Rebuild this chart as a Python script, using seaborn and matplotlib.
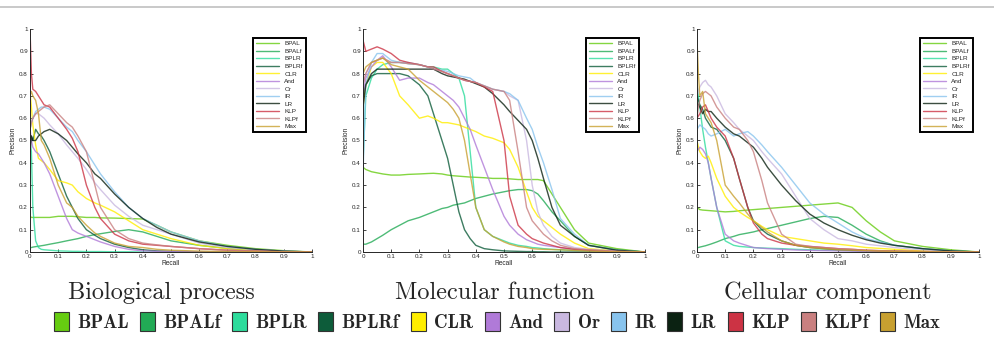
import pandas as pd
import matplotlib
matplotlib.use('Agg')
import matplotlib.pyplot as plt
from matplotlib.lines import Line2D
from matplotlib.patches import Patch
from matplotlib.ticker import FuncFormatter, MultipleLocator
import seaborn as sns

methods = ['BPAL', 'BPALf', 'BPLR', 'BPLRf', 'CLR', 'And', 'Or', 'IR', 'LR', 'KLP', 'KLPf', 'Max']
colors = ['#66cc11', '#22aa55', '#2ddc9c', '#0d5c3a', '#ffee00', '#b07ad8',
          '#c9b8e0', '#88c4ee', '#0b2212', '#cc3344', '#c98080', '#c8a030']
titles = ['Biological process', 'Molecular function', 'Cellular component']

# Biological process
bp_recall = [0, 0.005, 0.01, 0.02, 0.03, 0.04, 0.05, 0.07, 0.1, 0.13, 0.15, 0.17, 0.2,
             0.23, 0.25, 0.3, 0.35, 0.4, 0.45, 0.5, 0.6, 0.7, 0.8, 0.9, 1.0]
bp_precision = {
    'BPAL':  [0.16, 0.155, 0.155, 0.155, 0.155, 0.155, 0.155, 0.155, 0.16, 0.16, 0.16, 0.158, 0.155,
              0.155, 0.153, 0.152, 0.15, 0.148, 0.12, 0.09, 0.05, 0.03, 0.015, 0.006, 0.0],
    'BPALf': [0.02, 0.02, 0.022, 0.024, 0.026, 0.028, 0.03, 0.035, 0.042, 0.05, 0.055, 0.06, 0.07,
              0.078, 0.082, 0.092, 0.1, 0.09, 0.07, 0.05, 0.03, 0.016, 0.008, 0.003, 0.0],
    'BPLR':  [0.5, 0.45, 0.2, 0.05, 0.02, 0.012, 0.01, 0.008, 0.005, 0.004, 0.003, 0.003, 0.002,
              0.002, 0.002, 0.001, 0.001, 0, 0, 0, 0, 0, 0, 0, 0],
    'BPLRf': [0.5, 0.52, 0.5, 0.55, 0.53, 0.52, 0.5, 0.45, 0.35, 0.25, 0.2, 0.15, 0.1,
              0.075, 0.06, 0.035, 0.02, 0.01, 0.005, 0.003, 0.001, 0, 0, 0, 0],
    'CLR':   [0.72, 0.65, 0.57, 0.48, 0.42, 0.41, 0.4, 0.37, 0.32, 0.31, 0.3, 0.27, 0.24,
              0.22, 0.21, 0.18, 0.14, 0.1, 0.08, 0.06, 0.03, 0.015, 0.008, 0.003, 0.0],
    'And':   [0.55, 0.5, 0.47, 0.45, 0.44, 0.42, 0.4, 0.35, 0.25, 0.15, 0.1, 0.085, 0.07,
              0.055, 0.045, 0.025, 0.012, 0.005, 0.003, 0.002, 0.001, 0, 0, 0, 0],
    'Or':    [0.55, 0.58, 0.6, 0.62, 0.62, 0.61, 0.6, 0.57, 0.53, 0.48, 0.45, 0.42, 0.37,
              0.31, 0.28, 0.21, 0.16, 0.12, 0.1, 0.08, 0.04, 0.02, 0.01, 0.004, 0.0],
    'IR':    [0.55, 0.58, 0.6, 0.63, 0.64, 0.65, 0.65, 0.64, 0.6, 0.56, 0.54, 0.5, 0.45,
              0.39, 0.35, 0.27, 0.2, 0.15, 0.12, 0.09, 0.05, 0.025, 0.012, 0.004, 0.0],
    'LR':    [0.45, 0.52, 0.5, 0.5, 0.52, 0.53, 0.54, 0.55, 0.53, 0.5, 0.47, 0.44, 0.4,
              0.35, 0.33, 0.26, 0.2, 0.15, 0.11, 0.08, 0.045, 0.025, 0.012, 0.004, 0.0],
    'KLP':   [1.0, 0.8, 0.73, 0.72, 0.7, 0.68, 0.66, 0.65, 0.6, 0.55, 0.51, 0.45, 0.3,
              0.2, 0.15, 0.08, 0.05, 0.035, 0.03, 0.025, 0.015, 0.008, 0.004, 0.001, 0.0],
    'KLPf':  [0.55, 0.58, 0.6, 0.62, 0.63, 0.64, 0.65, 0.66, 0.62, 0.58, 0.56, 0.52, 0.45,
              0.3, 0.2, 0.1, 0.06, 0.04, 0.032, 0.025, 0.015, 0.008, 0.004, 0.001, 0.0],
    'Max':   [0.7, 0.72, 0.7, 0.68, 0.62, 0.5, 0.48, 0.42, 0.3, 0.22, 0.2, 0.16, 0.12,
              0.085, 0.07, 0.04, 0.025, 0.02, 0.012, 0.008, 0.004, 0.002, 0.001, 0, 0],
}

# Molecular function
mf_recall = [0, 0.01, 0.03, 0.05, 0.07, 0.1, 0.13, 0.16, 0.2, 0.23, 0.25, 0.28, 0.3, 0.32,
             0.34, 0.36, 0.38, 0.4, 0.43, 0.46, 0.5, 0.52, 0.55, 0.58, 0.6, 0.62, 0.64,
             0.67, 0.7, 0.75, 0.8, 0.9, 1.0]
mf_precision = {
    'BPAL':  [0.38, 0.37, 0.36, 0.355, 0.35, 0.345, 0.345, 0.348, 0.35, 0.352, 0.353, 0.35, 0.345,
              0.342, 0.34, 0.338, 0.336, 0.335, 0.333, 0.33, 0.33, 0.328, 0.325, 0.325, 0.325,
              0.325, 0.32, 0.26, 0.2, 0.1, 0.04, 0.015, 0.0],
    'BPALf': [0.035, 0.035, 0.045, 0.06, 0.075, 0.1, 0.12, 0.14, 0.155, 0.17, 0.18, 0.195, 0.2,
              0.21, 0.215, 0.22, 0.23, 0.24, 0.25, 0.26, 0.27, 0.275, 0.28, 0.28, 0.275, 0.26,
              0.23, 0.18, 0.14, 0.07, 0.03, 0.01, 0.0],
    'BPLR':  [0.4, 0.7, 0.78, 0.82, 0.84, 0.85, 0.85, 0.845, 0.84, 0.83, 0.83, 0.82, 0.82,
              0.8, 0.78, 0.7, 0.45, 0.2, 0.1, 0.07, 0.05, 0.04, 0.03, 0.025, 0.02, 0.018,
              0.015, 0.012, 0.01, 0.007, 0.005, 0.002, 0.0],
    'BPLRf': [0.7, 0.75, 0.79, 0.8, 0.8, 0.8, 0.8, 0.79, 0.75, 0.7, 0.62, 0.5, 0.42, 0.3,
              0.18, 0.1, 0.06, 0.03, 0.015, 0.01, 0.005, 0.004, 0.003, 0.002, 0.002, 0.001,
              0.001, 0, 0, 0, 0, 0, 0],
    'CLR':   [0.65, 0.75, 0.83, 0.85, 0.85, 0.8, 0.7, 0.66, 0.6, 0.61, 0.6, 0.58, 0.58, 0.575,
              0.57, 0.56, 0.55, 0.54, 0.52, 0.51, 0.49, 0.46, 0.38, 0.27, 0.2, 0.16, 0.14,
              0.11, 0.08, 0.04, 0.015, 0.005, 0.0],
    'And':   [0.7, 0.78, 0.83, 0.86, 0.88, 0.83, 0.77, 0.78, 0.78, 0.76, 0.75, 0.72, 0.7, 0.68,
              0.65, 0.6, 0.55, 0.48, 0.38, 0.28, 0.16, 0.12, 0.08, 0.055, 0.045, 0.035, 0.03,
              0.025, 0.02, 0.012, 0.008, 0.003, 0.0],
    'Or':    [0.75, 0.8, 0.85, 0.86, 0.87, 0.85, 0.85, 0.845, 0.84, 0.83, 0.82, 0.81, 0.8, 0.79,
              0.78, 0.77, 0.765, 0.76, 0.745, 0.73, 0.72, 0.7, 0.68, 0.5, 0.3, 0.18, 0.12,
              0.07, 0.04, 0.02, 0.012, 0.004, 0.0],
    'IR':    [0.35, 0.75, 0.85, 0.89, 0.89, 0.86, 0.85, 0.85, 0.84, 0.83, 0.82, 0.815, 0.81, 0.8,
              0.79, 0.785, 0.78, 0.76, 0.745, 0.73, 0.72, 0.71, 0.68, 0.6, 0.55, 0.47, 0.4,
              0.28, 0.15, 0.08, 0.03, 0.008, 0.0],
    'LR':    [0.65, 0.75, 0.8, 0.82, 0.82, 0.82, 0.82, 0.82, 0.82, 0.82, 0.82, 0.8, 0.79, 0.785,
              0.78, 0.775, 0.765, 0.755, 0.74, 0.71, 0.66, 0.63, 0.59, 0.55, 0.5, 0.42, 0.33,
              0.2, 0.12, 0.07, 0.03, 0.008, 0.0],
    'KLP':   [0.95, 0.9, 0.91, 0.92, 0.91, 0.89, 0.86, 0.85, 0.84, 0.83, 0.83, 0.81, 0.8, 0.79,
              0.78, 0.77, 0.765, 0.76, 0.74, 0.72, 0.5, 0.25, 0.12, 0.08, 0.06, 0.05, 0.04,
              0.03, 0.02, 0.012, 0.008, 0.002, 0.0],
    'KLPf':  [0.75, 0.8, 0.85, 0.86, 0.87, 0.85, 0.85, 0.845, 0.84, 0.83, 0.82, 0.81, 0.8, 0.79,
              0.78, 0.77, 0.765, 0.76, 0.745, 0.73, 0.72, 0.68, 0.45, 0.2, 0.14, 0.11, 0.08,
              0.05, 0.03, 0.015, 0.01, 0.003, 0.0],
    'Max':   [0.8, 0.83, 0.85, 0.86, 0.87, 0.84, 0.83, 0.82, 0.77, 0.74, 0.72, 0.69, 0.67, 0.64,
              0.6, 0.5, 0.35, 0.2, 0.1, 0.07, 0.045, 0.035, 0.025, 0.02, 0.015, 0.013, 0.012,
              0.011, 0.01, 0.007, 0.004, 0.001, 0.0],
}

# Cellular component
cc_recall = [0, 0.005, 0.01, 0.02, 0.03, 0.04, 0.05, 0.07, 0.1, 0.13, 0.15, 0.18, 0.2, 0.23,
             0.25, 0.3, 0.35, 0.4, 0.45, 0.5, 0.55, 0.6, 0.65, 0.7, 0.8, 0.9, 1.0]
cc_precision = {
    'BPAL':  [0.2, 0.195, 0.19, 0.188, 0.187, 0.186, 0.185, 0.183, 0.18, 0.182, 0.185, 0.188,
              0.19, 0.193, 0.195, 0.2, 0.205, 0.21, 0.215, 0.22, 0.2, 0.14, 0.09, 0.05, 0.025,
              0.01, 0.0],
    'BPALf': [0.02, 0.02, 0.022, 0.025, 0.028, 0.032, 0.036, 0.045, 0.06, 0.07, 0.078, 0.085,
              0.09, 0.1, 0.105, 0.12, 0.135, 0.15, 0.16, 0.155, 0.12, 0.08, 0.05, 0.03, 0.015,
              0.005, 0.0],
    'BPLR':  [0.75, 0.7, 0.65, 0.55, 0.47, 0.4, 0.33, 0.2, 0.05, 0.03, 0.025, 0.022, 0.02,
              0.018, 0.017, 0.015, 0.012, 0.01, 0.008, 0.007, 0.006, 0.005, 0.003, 0.002,
              0.001, 0.0, 0.0],
    'BPLRf': [0.7, 0.68, 0.66, 0.64, 0.6, 0.58, 0.56, 0.55, 0.5, 0.42, 0.33, 0.2, 0.14, 0.1,
              0.08, 0.05, 0.03, 0.02, 0.015, 0.01, 0.007, 0.005, 0.003, 0.002, 0.001, 0, 0],
    'CLR':   [0.5, 0.47, 0.45, 0.43, 0.42, 0.43, 0.4, 0.33, 0.25, 0.2, 0.18, 0.155, 0.14,
              0.115, 0.1, 0.07, 0.06, 0.05, 0.04, 0.035, 0.028, 0.02, 0.016, 0.012, 0.005,
              0.002, 0.0],
    'And':   [0.45, 0.46, 0.47, 0.46, 0.44, 0.4, 0.33, 0.2, 0.08, 0.05, 0.04, 0.028, 0.02,
              0.017, 0.015, 0.012, 0.009, 0.007, 0.006, 0.005, 0.004, 0.003, 0.002, 0.001,
              0, 0, 0],
    'Or':    [0.7, 0.72, 0.74, 0.76, 0.77, 0.75, 0.74, 0.7, 0.62, 0.58, 0.55, 0.52, 0.5, 0.45,
              0.42, 0.35, 0.25, 0.15, 0.1, 0.06, 0.05, 0.035, 0.028, 0.02, 0.01, 0.003, 0.0],
    'IR':    [0.55, 0.56, 0.57, 0.56, 0.55, 0.53, 0.52, 0.53, 0.55, 0.52, 0.53, 0.54, 0.52,
              0.48, 0.45, 0.38, 0.3, 0.22, 0.17, 0.13, 0.09, 0.06, 0.045, 0.03, 0.015, 0.005,
              0.0],
    'LR':    [0.67, 0.66, 0.65, 0.62, 0.64, 0.63, 0.63, 0.6, 0.56, 0.53, 0.52, 0.49, 0.47,
              0.42, 0.38, 0.3, 0.23, 0.17, 0.13, 0.1, 0.075, 0.055, 0.04, 0.03, 0.015, 0.005,
              0.0],
    'KLP':   [0.6, 0.61, 0.62, 0.65, 0.66, 0.63, 0.6, 0.56, 0.52, 0.42, 0.33, 0.2, 0.13, 0.08,
              0.06, 0.04, 0.03, 0.025, 0.02, 0.015, 0.012, 0.008, 0.006, 0.004, 0.002, 0.001,
              0.0],
    'KLPf':  [0.6, 0.65, 0.68, 0.71, 0.72, 0.71, 0.7, 0.65, 0.6, 0.56, 0.55, 0.5, 0.45, 0.32,
              0.22, 0.08, 0.035, 0.025, 0.02, 0.015, 0.012, 0.008, 0.006, 0.004, 0.002, 0.001,
              0.0],
    'Max':   [0.95, 0.8, 0.7, 0.72, 0.62, 0.6, 0.58, 0.5, 0.3, 0.25, 0.22, 0.17, 0.14, 0.11,
              0.09, 0.05, 0.03, 0.02, 0.015, 0.01, 0.008, 0.006, 0.004, 0.003, 0.001, 0, 0],
}

panels = [(bp_recall, bp_precision), (mf_recall, mf_precision), (cc_recall, cc_precision)]


def to_long(recall, prec):
    rows = []
    for m in methods:
        for r, p in zip(recall, prec[m]):
            rows.append((m, r, p))
    return pd.DataFrame(rows, columns=['method', 'Recall', 'Precision'])


sns.set_style('ticks')
plt.rcParams['font.family'] = ['Liberation Sans', 'DejaVu Sans']
palette = dict(zip(methods, colors))

W, H = 994, 343
fig = plt.figure(figsize=(W / 100, H / 100), dpi=100)

# thin grey rule across the top
fig.add_artist(Line2D([0, 1], [1 - 7 / H, 1 - 7 / H], color='#c0c0c0', lw=1.2,
                      transform=fig.transFigure))

lefts = [30, 363, 697]
title_x = [161, 495, 828]
fmt = FuncFormatter(lambda v, pos: '%g' % round(v, 1))

for i, (recall, prec) in enumerate(panels):
    ax = fig.add_axes([lefts[i] / W, (H - 252) / H, 282 / W, 223 / H])
    df = to_long(recall, prec)
    sns.lineplot(data=df, x='Recall', y='Precision', hue='method', hue_order=methods,
                 palette=palette, estimator=None, sort=False, linewidth=1.0, alpha=0.8, ax=ax)

    ax.set_xlim(0, 1)
    ax.set_ylim(0, 1)
    ax.xaxis.set_major_locator(MultipleLocator(0.1))
    ax.yaxis.set_major_locator(MultipleLocator(0.1))
    ax.xaxis.set_major_formatter(fmt)
    ax.yaxis.set_major_formatter(fmt)
    ax.tick_params(direction='in', length=2, width=0.6, labelsize=4.5, pad=1.5)
    ax.set_xlabel('Recall', fontsize=4.8, labelpad=1)
    ax.set_ylabel('Precision', fontsize=4.8, labelpad=2)
    for s in ['left', 'bottom']:
        ax.spines[s].set_linewidth(0.7)
    sns.despine(ax=ax)

    old = ax.get_legend()
    handles = old.legend_handles
    labels = [t.get_text() for t in old.get_texts()]
    old.remove()
    leg = ax.legend(handles, labels, loc='upper right', bbox_to_anchor=(0.99, 0.975),
                    fontsize=4.6, handlelength=3.6, labelspacing=0.32, borderpad=0.5,
                    handletextpad=0.8, fancybox=False, framealpha=1, edgecolor='black')
    leg.get_frame().set_linewidth(1.4)

    fig.text(title_x[i] / W, (H - 293) / H, titles[i], fontfamily='cmr10', fontsize=17.5,
             ha='center', va='center')

# shared legend below the panels
patches = [Patch(facecolor=c, edgecolor='#333333', linewidth=0.8, label=m)
           for m, c in zip(methods, colors)]
fig.legend(handles=patches, loc='center', bbox_to_anchor=(0.5, (H - 322) / H), ncol=12,
           frameon=False, prop={'family': 'cmb10', 'size': 13.5}, handlelength=0.8,
           handleheight=1.2, handletextpad=0.45, columnspacing=0.6)

fig.savefig('out.png', dpi=100)
